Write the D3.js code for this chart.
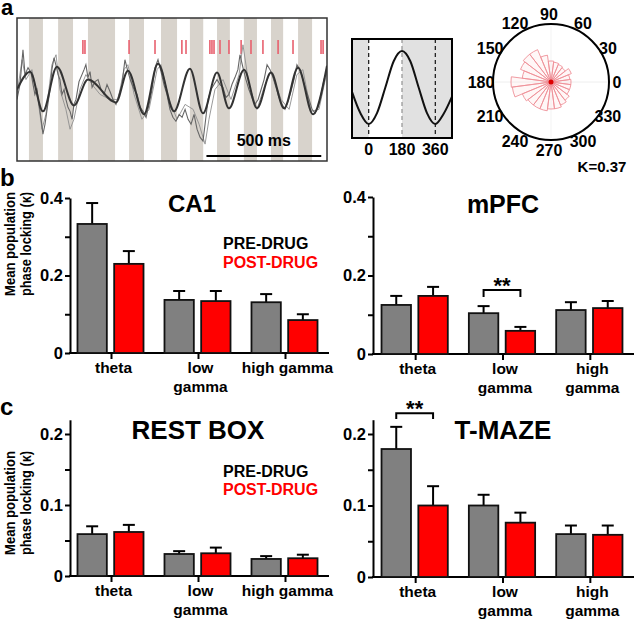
<!DOCTYPE html>
<html><head><meta charset="utf-8">
<script src="https://cdn.jsdelivr.net/npm/d3@7"></script>
<style>
body{margin:0;background:#fff}
text{font-family:"Liberation Sans",Arial,Helvetica,sans-serif;font-weight:bold;fill:#000}
</style>
</head><body>
<svg id="fig" width="640" height="622"></svg>
<script>
// ---------------- DATA ----------------
// panel a: example trace (time in ms, amplitude in arbitrary units)
const thetaStripes = [[52,113],[179,244],[309,427],[488,553],[627,697],[753,811],[871,927],[988,1045],[1106,1159],[1224,1285]];
const spikeTimes = [287,296,488,601,718,736,840,849,858,884,923,976,1019,1071,1137,1202,1324,1333];
const filteredTrace = [[0,0],[57,18],[113,-22],[174,23],[248,-16],[309,10],[431,-13],[483,19],[553,-25],[614,26],[684,-22],[753,21],[810,-24],[871,17],[923,-19],[989,20],[1045,-19],[1106,17],[1163,-19],[1224,22],[1289,-25],[1350,24]];
const rawTrace = [[0,-10],[13,5],[26,40],[35,15],[48,22],[61,17],[70,5],[78,-5],[87,0],[96,-15],[105,-30],[113,-45],[122,-35],[131,-20],[144,0],[152,20],[161,32],[170,24],[179,15],[187,10],[196,-5],[205,0],[213,-10],[222,-18],[231,-22],[240,-30],[248,-15],[257,-10],[270,8],[283,15],[292,20],[300,25],[309,12],[318,18],[327,2],[340,8],[353,10],[366,0],[379,-5],[392,5],[405,-2],[418,-10],[431,-15],[444,-5],[457,5],[470,30],[483,18],[496,8],[510,0],[523,-5],[536,-18],[549,-22],[562,-28],[575,-15],[588,0],[601,22],[614,30],[627,18],[640,5],[653,-5],[666,-20],[679,-28],[692,-32],[706,-25],[719,-28],[732,-20],[745,-30],[758,-35],[771,-25],[784,-40],[797,-48],[810,-52],[819,-35],[832,-10],[845,0],[858,5],[871,10],[884,5],[897,2],[910,-8],[923,-5],[936,5],[949,12],[962,20],[971,35],[984,22],[997,10],[1010,0],[1023,-8],[1036,-15],[1050,-10],[1063,0],[1076,10],[1089,25],[1102,20],[1115,12],[1128,2],[1141,-8],[1154,-15],[1167,-20],[1180,-12],[1193,-2],[1206,10],[1219,25],[1232,20],[1245,10],[1258,0],[1272,-10],[1285,-20],[1298,-24],[1311,-18],[1324,-5],[1337,10],[1350,20]];
const rawTrace2 = [[0,-5],[22,30],[39,10],[65,20],[91,-10],[109,-40],[126,-25],[152,25],[170,35],[187,0],[213,-20],[231,-40],[248,-30],[274,0],[300,15],[327,5],[362,-5],[405,-10],[440,-10],[466,20],[483,25],[510,-5],[544,-30],[575,-20],[610,20],[627,25],[662,-10],[697,-30],[732,-15],[767,-20],[793,-35],[819,-55],[836,-30],[862,0],[897,10],[932,-10],[967,15],[984,45],[1010,5],[1045,-20],[1080,5],[1106,18],[1150,-10],[1185,-20],[1219,15],[1245,20],[1280,-22],[1315,-20],[1350,18]];
const scaleBarStart = 825, scaleBarLength = 500, scaleBarLabel = "500 ms";
// phase-averaged theta cycle (phase in degrees, normalised amplitude)
const cyclePhase = [-90,-45,0,45,90,135,180,225,270,315,360,405,450];
const cycleAmp   = [-0.12,-0.7,-1,-0.7,0,0.72,1,0.72,0,-0.7,-1,-0.72,-0.25];
const phaseTicks = [0,180,360];
// spike phase histogram (bin centre in degrees, spike count)
const roseAngles = [0,15,30,45,60,75,90,105,120,135,150,165,180,195,210,225,240,255,270,285,300,315,330,345];
const roseCounts = [10,9.5,11,9,9.5,10,10.5,13.5,17.5,17.5,16.5,14.5,20,19.5,15.5,14.5,14.5,14.5,13.5,13.5,12.5,11.5,10,10];
const polarLabels = [0,30,60,90,120,150,180,210,240,270,300,330];
const kappaText = "K=0.37";

// panels b & c: mean population phase locking (kappa)
const bands = ["theta","low gamma","high gamma"];
const conditions = ["PRE-DRUG","POST-DRUG"];
const labelsWide = [["theta"],["low","gamma"],["high gamma"]];
const labelsStacked = [["theta"],["low","gamma"],["high","gamma"]];
const ca1Pre = [0.333,0.137,0.131],   ca1PreErr = [0.054,0.023,0.021];
const ca1Post = [0.230,0.134,0.085],  ca1PostErr = [0.033,0.026,0.015];
const mpfcPre = [0.125,0.104,0.112],  mpfcPreErr = [0.023,0.018,0.020];
const mpfcPost = [0.148,0.059,0.117], mpfcPostErr = [0.023,0.010,0.018];
const restPre = [0.059,0.031,0.024],  restPreErr = [0.011,0.004,0.004];
const restPost = [0.062,0.032,0.025], restPostErr = [0.010,0.008,0.005];
const tmazePre = [0.179,0.100,0.060], tmazePreErr = [0.031,0.015,0.012];
const tmazePost = [0.100,0.076,0.059],tmazePostErr = [0.027,0.014,0.013];
const ticksB = [0,0.1,0.2,0.3,0.4], labeledB = [0,0.2,0.4];
const ticksC = [0,0.05,0.1,0.15,0.2], labeledC = [0,0.1,0.2];

// ---------------- DRAW ----------------
const svg = d3.select("#fig");
const FONT = '"Liberation Sans",Arial,sans-serif';
const colors = {"PRE-DRUG":"#808080","POST-DRUG":"#ff0000"};

// panel letters
[["a",1,15,22],["b",0,186,24],["c",0,415,24]].forEach(([t,x,y,s]) =>
  svg.append("text").attr("x",x).attr("y",y).attr("font-size",s).text(t));

// ---- panel a: trace ----
(function(){
  const x = d3.scaleLinear().domain([0,1350]).range([17,327]);
  const y = d3.scaleLinear().domain([-72,72]).range([161,18]);
  const g = svg.append("g");
  g.append("clipPath").attr("id","clipA").append("rect")
    .attr("x",17).attr("y",18).attr("width",310).attr("height",143);
  const c = g.append("g").attr("clip-path","url(#clipA)");
  c.selectAll("rect.st").data(thetaStripes).join("rect").attr("class","st")
    .attr("x",d=>x(d[0])).attr("width",d=>x(d[1])-x(d[0]))
    .attr("y",18).attr("height",143).attr("fill","#d8d3cc");
  c.selectAll("line.sp").data(spikeTimes).join("line").attr("class","sp")
    .attr("x1",d=>x(d)).attr("x2",d=>x(d)).attr("y1",40).attr("y2",54)
    .attr("stroke","#e8606e").attr("stroke-width",1.6);
  const line = d3.line().x(d=>x(d[0])).y(d=>y(d[1]));
  c.append("path").attr("d",line(rawTrace2))
    .attr("fill","none").attr("stroke","#8e8e8e").attr("stroke-width",0.9);
  c.append("path").attr("d",line(rawTrace))
    .attr("fill","none").attr("stroke","#666").attr("stroke-width",1.1);
  c.append("path").attr("d",d3.line().x(d=>x(d[0])).y(d=>y(d[1])).curve(d3.curveMonotoneX)(filteredTrace))
    .attr("fill","none").attr("stroke","#333").attr("stroke-width",2);
  g.append("rect").attr("x",17).attr("y",18).attr("width",310).attr("height",143)
    .attr("fill","none").attr("stroke","#333").attr("stroke-width",1.5);
  g.append("line").attr("x1",x(scaleBarStart)).attr("x2",x(scaleBarStart+scaleBarLength))
    .attr("y1",156).attr("y2",156).attr("stroke","#000").attr("stroke-width",2);
  g.append("text").attr("x",(x(scaleBarStart)+x(scaleBarStart+scaleBarLength))/2).attr("y",146)
    .attr("text-anchor","middle").attr("font-size",16).text(scaleBarLabel);
})();

// ---- panel a: phase cycle ----
(function(){
  const x = d3.scaleLinear().domain([-90,450]).range([352,452]);
  const y = d3.scaleLinear().domain([-1,1]).range([124,51]);
  const g = svg.append("g");
  g.append("rect").attr("x",352).attr("y",39).attr("width",100).attr("height",99).attr("fill","#e1e1e1");
  g.append("rect").attr("x",x(0)).attr("y",39).attr("width",x(180)-x(0)).attr("height",99).attr("fill","#fff");
  phaseTicks.forEach(p => g.append("line").attr("x1",x(p)).attr("x2",x(p)).attr("y1",39).attr("y2",138)
    .attr("stroke",p===180?"#999":"#222").attr("stroke-width",1.3).attr("stroke-dasharray","4,3"));
  const pts = cyclePhase.map((p,i)=>[p,cycleAmp[i]]);
  g.append("path").attr("d",d3.line().x(d=>x(d[0])).y(d=>y(d[1])).curve(d3.curveMonotoneX)(pts))
    .attr("fill","none").attr("stroke","#111").attr("stroke-width",2);
  g.append("rect").attr("x",352).attr("y",39).attr("width",100).attr("height",99)
    .attr("fill","none").attr("stroke","#000").attr("stroke-width",2);
  phaseTicks.forEach(p => g.append("text").attr("x",x(p)).attr("y",155).attr("text-anchor","middle")
    .attr("font-size",16).text(p));
})();

// ---- panel a: rose plot ----
(function(){
  const cx = 551, cy = 82, R = 58;
  const r = d3.scaleLinear().domain([0,29]).range([0,R]);
  const g = svg.append("g").attr("transform",`translate(${cx},${cy})`);
  g.append("line").attr("x1",-R).attr("x2",R).attr("y1",0).attr("y2",0).attr("stroke","#eee");
  g.append("line").attr("y1",-R).attr("y2",R).attr("x1",0).attr("x2",0).attr("stroke","#f3f3f3");
  const arc = d3.arc().innerRadius(0);
  roseAngles.forEach((a,i)=>{
    const rad = Math.PI/180;
    g.append("path").attr("d",arc({outerRadius:r(roseCounts[i]),
        startAngle:(90-(a+7.5))*rad, endAngle:(90-(a-7.5))*rad}))
      .attr("fill","rgba(255,225,225,0.25)").attr("stroke","#ee9097").attr("stroke-width",0.9);
  });
  g.append("circle").attr("r",2.5).attr("fill","#d00");
  g.append("circle").attr("r",R).attr("fill","none").attr("stroke","#000").attr("stroke-width",2);
  polarLabels.forEach(a=>{
    const t = a*Math.PI/180;
    g.append("text").attr("x",-2+68*Math.cos(t)).attr("y",-68*Math.sin(t)).attr("dy","0.36em")
      .attr("text-anchor","middle").attr("font-size",16).text(a);
  });
  svg.append("text").attr("x",602).attr("y",172).attr("text-anchor","middle").attr("font-size",15).text(kappaText);
})();

// ---- bar panels ----
function barPanel(cfg){
  const g = svg.append("g");
  const x = d3.scaleBand().domain(bands).range(cfg.xRange);
  const step = x.step();
  const xs = d3.scaleBand().domain(conditions).range([step*0.109, step*0.868]).paddingInner(0.2);
  const y = d3.scaleLinear().domain([0,cfg.yMax]).range(cfg.yRange);
  const y0 = y(0);
  // y axis
  const ax = g.append("g").attr("transform",`translate(${cfg.axisX},0)`)
    .call(d3.axisLeft(y).tickValues(cfg.ticks).tickSize(5).tickSizeOuter(0).tickPadding(2)
      .tickFormat(d => cfg.labeled.includes(d) ? (d===0?"0":d3.format("")(d)) : ""));
  ax.select(".domain").attr("stroke-width",2);
  ax.selectAll(".tick line").attr("stroke-width",2);
  ax.selectAll(".tick text").attr("font-size",16.5).attr("font-family",FONT).attr("font-weight","bold").attr("fill","#000");
  // x axis
  g.append("line").attr("x1",cfg.axisX-1).attr("x2",cfg.xRange[1]).attr("y1",y0).attr("y2",y0)
    .attr("stroke","#000").attr("stroke-width",2);
  bands.forEach(b => g.append("line").attr("x1",x(b)+step/2).attr("x2",x(b)+step/2)
    .attr("y1",y0).attr("y2",y0+6).attr("stroke","#000").attr("stroke-width",2));
  // bars
  const series = [[conditions[0],cfg.pre,cfg.preErr],[conditions[1],cfg.post,cfg.postErr]];
  series.forEach(([cond,vals,errs]) => {
    bands.forEach((b,i) => {
      const bx = x(b)+xs(cond), bw = xs.bandwidth(), cxm = bx+bw/2;
      g.append("line").attr("x1",cxm).attr("x2",cxm).attr("y1",y(vals[i])).attr("y2",y(vals[i]+errs[i]))
        .attr("stroke","#000").attr("stroke-width",2);
      g.append("line").attr("x1",cxm-6).attr("x2",cxm+6).attr("y1",y(vals[i]+errs[i])).attr("y2",y(vals[i]+errs[i]))
        .attr("stroke","#000").attr("stroke-width",2);
      g.append("rect").attr("x",bx).attr("y",y(vals[i])).attr("width",bw).attr("height",y0-y(vals[i]))
        .attr("fill",colors[cond]).attr("stroke","#111").attr("stroke-width",1.8);
    });
  });
  // category labels
  bands.forEach((b,i) => cfg.labels[i].forEach((t,j) =>
    g.append("text").attr("x",x(b)+step/2+2).attr("y",y0+20+j*19).attr("text-anchor","middle")
      .attr("font-size",15.5).text(t)));
  // title
  g.append("text").attr("x",cfg.titleX).attr("y",cfg.titleY).attr("text-anchor","middle")
    .attr("font-size",cfg.titleSize).text(cfg.title);
  // legend
  if (cfg.legend) conditions.forEach((c,i) =>
    g.append("text").attr("x",cfg.legend[0]).attr("y",cfg.legend[1]+i*cfg.legend[2]).attr("font-size",16)
      .style("fill", i===0?"#000":"#ff0000").text(c));
  // significance bracket
  if (cfg.sig) {
    const s = cfg.sig, b = bands[s.band];
    const xa = x(b)+xs(conditions[0])+xs.bandwidth()/2, xb = x(b)+xs(conditions[1])+xs.bandwidth()/2;
    g.append("path").attr("d",`M${xa},${y(s.y-s.leg)}V${y(s.y)}H${xb}V${y(s.y-s.leg)}`)
      .attr("fill","none").attr("stroke","#000").attr("stroke-width",2);
    g.append("text").attr("x",(xa+xb)/2).attr("y",y(s.y)+3).attr("text-anchor","middle")
      .attr("font-size",22).text("**");
  }
  // y label
  if (cfg.ylabelY) {
    ["Mean population","phase locking (κ)"].forEach((t,j) =>
      svg.append("text").attr("transform",`translate(${14.5+j*16},${cfg.ylabelY}) rotate(-90)`)
        .attr("text-anchor","middle").attr("font-size",15.5)
        .attr("textLength",104).attr("lengthAdjust","spacingAndGlyphs").text(t));
  }
}

barPanel({xRange:[68,329], axisX:70, yMax:0.4, yRange:[353,198], ticks:ticksB, labeled:labeledB,
  pre:ca1Pre, preErr:ca1PreErr, post:ca1Post, postErr:ca1PostErr, labels:labelsWide,
  title:"CA1", titleX:192, titleY:212, titleSize:24, legend:[223,249,19], ylabelY:244});
barPanel({xRange:[372,634], axisX:373, yMax:0.4, yRange:[354,197], ticks:ticksB, labeled:labeledB,
  pre:mpfcPre, preErr:mpfcPreErr, post:mpfcPost, postErr:mpfcPostErr, labels:labelsStacked,
  title:"mPFC", titleX:503, titleY:213, titleSize:25, sig:{band:1, y:0.163, leg:0.018}});
barPanel({xRange:[68,329], axisX:70, yMax:0.22, yRange:[576,419.8], ticks:ticksC, labeled:labeledC,
  pre:restPre, preErr:restPreErr, post:restPost, postErr:restPostErr, labels:labelsWide,
  title:"REST BOX", titleX:198, titleY:439, titleSize:26, legend:[223,477,18], ylabelY:503});
barPanel({xRange:[372,634], axisX:373, yMax:0.22, yRange:[577,419.7], ticks:ticksC, labeled:labeledC,
  pre:tmazePre, preErr:tmazePreErr, post:tmazePost, postErr:tmazePostErr, labels:labelsStacked,
  title:"T-MAZE", titleX:503, titleY:439, titleSize:26, sig:{band:0, y:0.229, leg:0.008}});
</script>
</body></html>
